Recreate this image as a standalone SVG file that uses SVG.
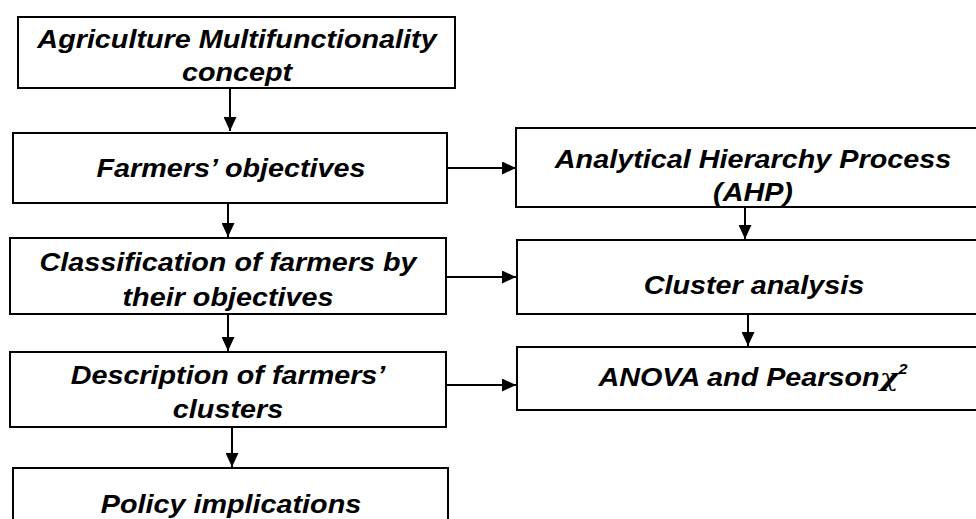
<svg xmlns="http://www.w3.org/2000/svg" width="976" height="519" viewBox="0 0 976 519">
<style>
.box{fill:#fff;stroke:#000;stroke-width:2}
.t{font-family:"Liberation Sans",Arial,sans-serif;font-weight:bold;font-style:italic;font-size:25px;fill:#000;text-anchor:middle}
.c{stroke:#000;stroke-width:2;fill:none}
</style>
<defs>
<marker id="ah" markerWidth="14" markerHeight="13" refX="14" refY="6.5" orient="auto" markerUnits="userSpaceOnUse" viewBox="0 0 14 13">
<path d="M0,0 L14,6.5 L0,13 Z" fill="#000"/>
</marker>
</defs>
<rect width="976" height="519" fill="#fff"/>
<g id="connectors">
<line class="c" x1="230" y1="88" x2="230" y2="131" marker-end="url(#ah)"/>
<line class="c" x1="228" y1="203" x2="228" y2="237" marker-end="url(#ah)"/>
<line class="c" x1="228" y1="314" x2="228" y2="351" marker-end="url(#ah)"/>
<line class="c" x1="232" y1="427" x2="232" y2="467" marker-end="url(#ah)"/>
<line class="c" x1="447" y1="168" x2="516" y2="168" marker-end="url(#ah)"/>
<line class="c" x1="446" y1="277" x2="516" y2="277" marker-end="url(#ah)"/>
<line class="c" x1="446" y1="385" x2="516" y2="385" marker-end="url(#ah)"/>
<line class="c" x1="745" y1="207" x2="745" y2="239" marker-end="url(#ah)"/>
<line class="c" x1="748" y1="314" x2="748" y2="346" marker-end="url(#ah)"/>
</g>
<g id="n1">
<rect class="box" x="18" y="17" width="437" height="71"/>
<text class="t" transform="translate(237,48) scale(1.15,1)">Agriculture Multifunctionality</text>
<text class="t" transform="translate(237,81) scale(1.15,1)">concept</text>
</g>
<g id="n2">
<rect class="box" x="13" y="133" width="434" height="70"/>
<text class="t" transform="translate(231,177) scale(1.15,1)">Farmers’ objectives</text>
</g>
<g id="n3">
<rect class="box" x="10" y="238" width="436" height="76"/>
<text class="t" transform="translate(228,271) scale(1.15,1)">Classification of farmers by</text>
<text class="t" transform="translate(228,306) scale(1.15,1)">their objectives</text>
</g>
<g id="n4">
<rect class="box" x="10" y="352" width="436" height="75"/>
<text class="t" transform="translate(228,384) scale(1.15,1)">Description of farmers’</text>
<text class="t" transform="translate(228,418) scale(1.15,1)">clusters</text>
</g>
<g id="n5">
<rect class="box" x="13" y="468" width="435" height="70"/>
<text class="t" transform="translate(231,513) scale(1.15,1)">Policy implications</text>
</g>
<g id="r1">
<rect class="box" x="516" y="128" width="474" height="79"/>
<text class="t" transform="translate(753,168) scale(1.15,1)">Analytical Hierarchy Process</text>
<text class="t" transform="translate(753,201) scale(1.15,1)">(AHP)</text>
</g>
<g id="r2">
<rect class="box" x="517" y="240" width="473" height="74"/>
<text class="t" transform="translate(754,294) scale(1.15,1)">Cluster analysis</text>
</g>
<g id="r3">
<rect class="box" x="517" y="347" width="473" height="63"/>
<text class="t" transform="translate(753,386) scale(1.15,1)">ANOVA and Pearson<tspan font-family="'DejaVu Serif',serif">χ</tspan><tspan font-size="14" dy="-12">2</tspan></text>
</g>
</svg>
